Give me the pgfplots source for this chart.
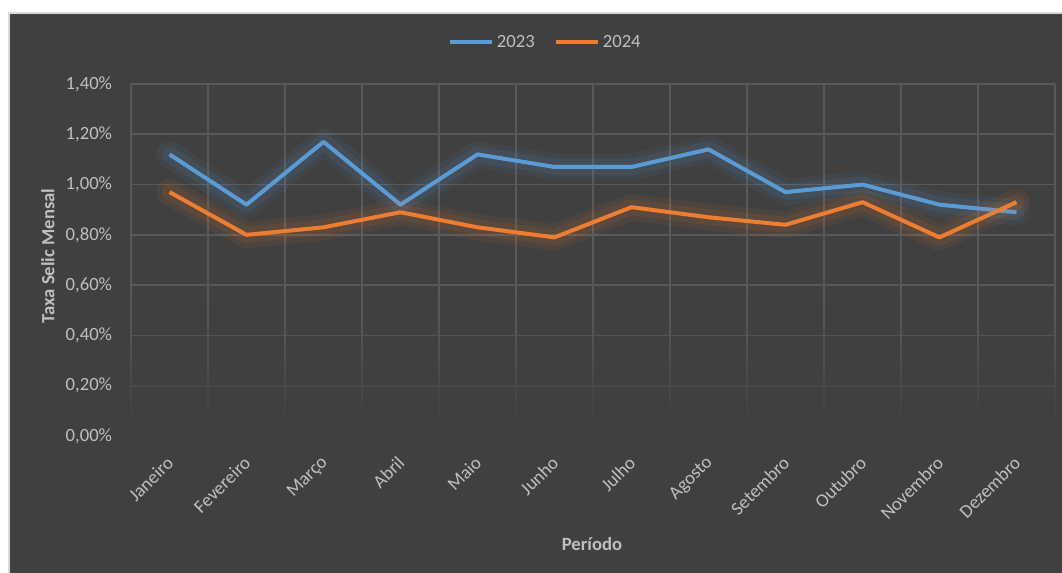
\documentclass[border=0pt]{standalone}
\usepackage{fontspec}
\setmainfont{Carlito}
\usepackage{pgfplots}
\usepackage{pgfplotstable}
\pgfplotsset{compat=1.18}
\definecolor{bg}{HTML}{404040}
\definecolor{gridc}{HTML}{595959}
\definecolor{txt}{HTML}{BFBFBF}
\definecolor{ser1}{HTML}{5B9BD5}
\definecolor{ser2}{HTML}{ED7D31}
\pgfplotstableread{
x y
1 1.12
2 0.92
3 1.17
4 0.92
5 1.12
6 1.07
7 1.07
8 1.14
9 0.97
10 1.00
11 0.92
12 0.89
}\dataA
\pgfplotstableread{
x y
1 0.97
2 0.80
3 0.83
4 0.89
5 0.83
6 0.79
7 0.91
8 0.87
9 0.84
10 0.93
11 0.79
12 0.93
}\dataB
\pgfplotstableread{
x h
0.5 1.4
1.5 1.4
2.5 1.4
3.5 1.4
4.5 1.4
5.5 1.4
6.5 1.4
7.5 1.4
8.5 1.4
9.5 1.4
10.5 1.4
11.5 1.4
12.5 1.4
}\gridx
\pgfplotsset{
  vg/.style={ycomb, draw=gridc!#1!bg, line width=1.3pt, mark=none, forget plot},
  hg/.style={draw=gridc!#1!bg, line width=1.3pt, mark=none, forget plot}
}
\begin{document}
\begin{tikzpicture}
\useasboundingbox (0,0) rectangle (796.5pt,-429.75pt);
\fill[white] (0,0) rectangle (796.5pt,-429.75pt);
\fill[bg, draw=black!15, line width=1.5pt] (6.6pt,-9.4pt) rectangle (800pt,-435pt);
\node[rotate=90, text=txt, font=\fontsize{14}{16}\selectfont\bfseries] at (36pt,-192pt) {Taxa Selic Mensal};
\node[text=txt, font=\fontsize{14}{16}\selectfont\bfseries] at (444pt,-408pt) {Período};
\begin{axis}[
  at={(98.25pt,-327pt)}, anchor=south west,
  scale only axis, width=693pt, height=264pt,
  xmin=0.5, xmax=12.5, ymin=0, ymax=1.4,
  clip=false,
  xtick={1,2,3,4,5,6,7,8,9,10,11,12},
  xticklabels={Janeiro,Fevereiro,Março,Abril,Maio,Junho,Julho,Agosto,Setembro,Outubro,Novembro,Dezembro},
  ytick={0,0.2,0.4,0.6,0.8,1.0,1.2,1.4},
  yticklabels={{0,00\%},{0,20\%},{0,40\%},{0,60\%},{0,80\%},{1,00\%},{1,20\%},{1,40\%}},
  axis line style={draw=none},
  major tick length=0pt, minor tick length=0pt,
  tick style={draw=none},
  ticklabel style={text=txt, font=\fontsize{14}{16}\selectfont},
  yticklabel style={anchor=east, inner sep=0pt, xshift=-14pt},
  xticklabel style={xshift=-3pt, yshift=-14pt, rotate=45, anchor=north east, inner sep=0pt},
  legend style={at={(0.4486,1.119)}, anchor=center, draw=none, fill=none, text=txt,
    font=\fontsize{14}{16}\selectfont, legend columns=2,
    /tikz/every even column/.append style={column sep=12pt}},
  legend image code/.code={\draw[line width=3pt] (0pt,0pt) -- (32pt,0pt);},
]
% grid (fading toward the bottom)
\addplot[vg=100] table[x=x, y=h] {\gridx};
\addplot[vg=95] table[x=x, y expr=0.55] {\gridx};
\addplot[vg=85] table[x=x, y expr=0.45] {\gridx};
\addplot[vg=75] table[x=x, y expr=0.40] {\gridx};
\addplot[vg=65] table[x=x, y expr=0.35] {\gridx};
\addplot[vg=52] table[x=x, y expr=0.30] {\gridx};
\addplot[vg=40] table[x=x, y expr=0.25] {\gridx};
\addplot[vg=28] table[x=x, y expr=0.20] {\gridx};
\addplot[vg=17] table[x=x, y expr=0.15] {\gridx};
\addplot[vg=8] table[x=x, y expr=0.10] {\gridx};
\addplot[vg=2] table[x=x, y expr=0.05] {\gridx};
\addplot[hg=100] coordinates {(0.5,1.4) (12.5,1.4)};
\addplot[hg=100] coordinates {(0.5,1.2) (12.5,1.2)};
\addplot[hg=100] coordinates {(0.5,1.0) (12.5,1.0)};
\addplot[hg=100] coordinates {(0.5,0.8) (12.5,0.8)};
\addplot[hg=100] coordinates {(0.5,0.6) (12.5,0.6)};
\addplot[hg=80] coordinates {(0.5,0.4) (12.5,0.4)};
\addplot[hg=35] coordinates {(0.5,0.2) (12.5,0.2)};
% series with soft glow
\addplot[ser1, opacity=0.07, line width=20pt, line join=round, line cap=round, forget plot] table {\dataA};
\addplot[ser1, opacity=0.10, line width=12pt, line join=round, line cap=round, forget plot] table {\dataA};
\addplot[ser1, line width=3pt, line join=round] table {\dataA};
\addlegendentry{2023}
\addplot[ser2, opacity=0.07, line width=20pt, line join=round, line cap=round, forget plot] table {\dataB};
\addplot[ser2, opacity=0.10, line width=12pt, line join=round, line cap=round, forget plot] table {\dataB};
\addplot[ser2, line width=3pt, line join=round] table {\dataB};
\addlegendentry{2024}
\end{axis}
\end{tikzpicture}
\end{document}
